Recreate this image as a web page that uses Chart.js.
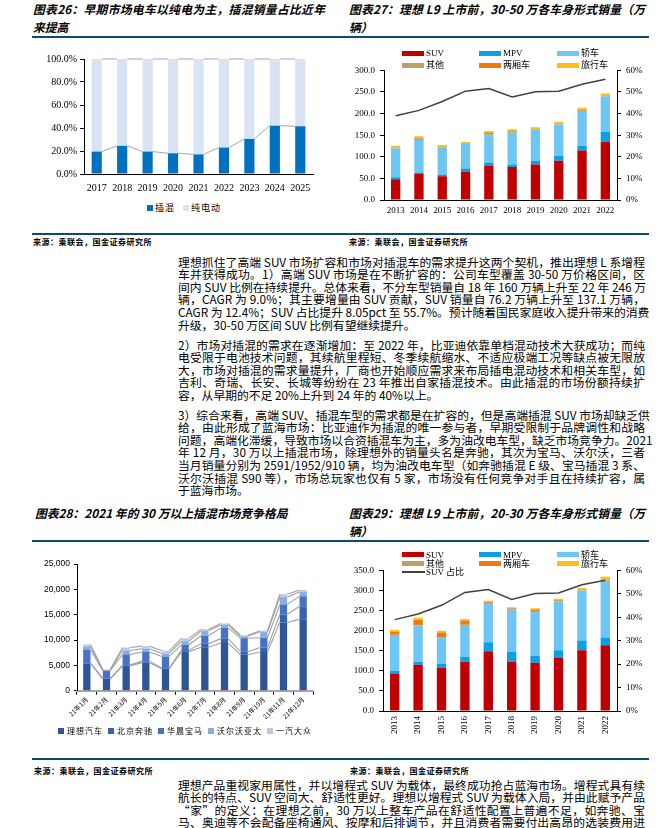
<!DOCTYPE html>
<html lang="zh-CN">
<head>
<meta charset="utf-8">
<script src="https://cdn.jsdelivr.net/npm/chart.js@4.4.1/dist/chart.umd.min.js"></script>
<style>
html, body { margin: 0; padding: 0; background: #fff; }
body { position: relative; width: 671px; height: 828px; overflow: hidden; font-family: "Noto Sans CJK SC", sans-serif; color: #000; }
.title { position: absolute; font-size: 11.8px; font-weight: bold; font-style: italic; line-height: 18px; }
.title div { text-align: justify; text-align-last: justify; white-space: nowrap; }
.title div.last { text-align-last: left; }
.rule { position: absolute; left: 32px; width: 617px; height: 2px; background: #0e4a6c; }
.src { position: absolute; font-size: 8px; font-weight: bold; letter-spacing: 0.5px; line-height: 10px; white-space: nowrap; }
.para { position: absolute; left: 178px; width: 467px; font-size: 11.8px; line-height: 12.6px; }
.para div { height: 12.6px; text-align: justify; text-align-last: justify; white-space: nowrap; }
.para div.last { text-align-last: left; }
canvas { position: absolute; }
.leg { position: absolute; display: flex; align-items: center; white-space: nowrap; line-height: 10px; z-index: 2; }
.leg .it { display: flex; align-items: center; }
.leg .sw { display: inline-block; }
.gl { position: absolute; font-family: "Liberation Serif", "Noto Sans CJK SC", serif; font-size: 9px; line-height: 10px; white-space: nowrap; z-index: 2; }
</style>
</head>
<body>

<div class="title" style="left:33px;top:0;width:292px"><div>图表26：早期市场电车以纯电为主，插混销量占比近年</div><div class="last">来提高</div></div>
<div class="title" style="left:349px;top:0;width:296px"><div>图表27：理想 L9 上市前，30-50 万各车身形式销量（万</div><div class="last">辆）</div></div>
<div class="rule" style="top:35.7px"></div>

<canvas id="c26" width="290" height="150" style="left:40px;top:50px"></canvas>
<div class="leg" id="leg26" style="left:147px;top:203px;font-size:9px;letter-spacing:1px"></div>

<canvas id="c27" width="305" height="160" style="left:345px;top:60px"></canvas>
<div id="leg27"></div>

<div class="rule" style="top:233.3px"></div>
<div class="src" style="left:33px;top:237.3px">来源：乘联会，国金证券研究所</div>
<div class="src" style="left:349px;top:237.3px">来源：乘联会，国金证券研究所</div>

<div class="para" style="top:255.7px">
<div>理想抓住了高端 SUV 市场扩容和市场对插混车的需求提升这两个契机，推出理想 L 系增程</div>
<div>车并获得成功。1）高端 SUV 市场是在不断扩容的：公司车型覆盖 30-50 万价格区间，区</div>
<div>间内 SUV 比例在持续提升。总体来看，不分车型销量自 18 年 160 万辆上升至 22 年 246 万</div>
<div>辆，CAGR 为 9.0%；其主要增量由 SUV 贡献，SUV 销量自 76.2 万辆上升至 137.1 万辆，</div>
<div>CAGR 为 12.4%；SUV 占比提升 8.05pct 至 55.7%。预计随着国民家庭收入提升带来的消费</div>
<div class="last">升级，30-50 万区间 SUV 比例有望继续提升。</div>
</div>
<div class="para" style="top:338.7px">
<div>2）市场对插混的需求在逐渐增加：至 2022 年，比亚迪依靠单档混动技术大获成功；而纯</div>
<div>电受限于电池技术问题，其续航里程短、冬季续航缩水、不适应极端工况等缺点被无限放</div>
<div>大，市场对插混的需求量提升，厂商也开始顺应需求来布局插电混动技术和相关车型，如</div>
<div>吉利、奇瑞、长安、长城等纷纷在 23 年推出自家插混技术。由此插混的市场份额持续扩</div>
<div class="last">容，从早期的不足 20%上升到 24 年的 40%以上。</div>
</div>
<div class="para" style="top:408.7px">
<div>3）综合来看，高端 SUV、插混车型的需求都是在扩容的，但是高端插混 SUV 市场却缺乏供</div>
<div>给，由此形成了蓝海市场：比亚迪作为插混的唯一参与者，早期受限制于品牌调性和战略</div>
<div>问题，高端化滞缓，导致市场以合资插混车为主，多为油改电车型，缺乏市场竞争力。2021</div>
<div>年 12 月，30 万以上插混市场，除理想外的销量头名是奔驰，其次为宝马、沃尔沃，三者</div>
<div>当月销量分别为 2591/1952/910 辆，均为油改电车型（如奔驰插混 E 级、宝马插混 3 系、</div>
<div>沃尔沃插混 S90 等），市场总玩家也仅有 5 家，市场没有任何竞争对手且在持续扩容，属</div>
<div class="last">于蓝海市场。</div>
</div>

<div class="title" style="left:35px;top:504px;width:252px"><div>图表28：2021 年的 30 万以上插混市场竞争格局</div></div>
<div class="title" style="left:349px;top:504px;width:296px"><div>图表29：理想 L9 上市前，20-30 万各车身形式销量（万</div><div class="last">辆）</div></div>
<div class="rule" style="top:539.7px"></div>

<canvas id="c28" width="285" height="180" style="left:40px;top:555px"></canvas>
<div class="leg" id="leg28" style="left:58px;top:725.7px;font-size:8px;letter-spacing:1px"></div>

<canvas id="c29" width="305" height="180" style="left:345px;top:560px"></canvas>
<div id="leg29"></div>

<div class="rule" style="top:758px"></div>
<div class="src" style="left:34px;top:766px">来源：乘联会，国金证券研究所</div>
<div class="src" style="left:350px;top:766px">来源：乘联会，国金证券研究所</div>

<div class="para" style="top:778.5px">
<div>理想产品重视家用属性，并以增程式 SUV 为载体，最终成功抢占蓝海市场。增程式具有续</div>
<div>航长的特点、SUV 空间大、舒适性更好。理想以增程式 SUV 为载体入局，并由此赋予产品</div>
<div>“家”的定义：在理想之前，30 万以上整车产品在舒适性配置上普遍不足，如奔驰、宝</div>
<div>马、奥迪等不会配备座椅通风、按摩和后排调节，并且消费者需要付出高昂的选装费用进</div>
</div>

<script>
// 图表26：插混 / 纯电动 占比（%）
const years26 = ['2017', '2018', '2019', '2020', '2021', '2022', '2023', '2024', '2025'];
const phev26  = [19.5, 24.5, 19.5, 18, 17, 23, 30.5, 42, 41.5];
const bev26   = [80.5, 75.5, 80.5, 82, 83, 77, 69.5, 58, 58.5];

// 图表27：30-50 万各车身形式销量（万辆）
const years27  = ['2013', '2014', '2015', '2016', '2017', '2018', '2019', '2020', '2021', '2022'];
const suv27    = [48, 60, 54.7, 66, 79.7, 76.2, 82, 91, 114.7, 135];
const mpv27    = [4.5, 3.8, 4.5, 7, 6.9, 6, 9, 11.5, 10.6, 22.5];
const sedan27  = [67, 75, 61.6, 57, 64.5, 73.5, 71.5, 72, 81, 82];
const other27  = [1, 3.5, 0.5, 2, 1.5, 1.5, 1.5, 1.5, 2, 2];
const hatch27  = [0.5, 1, 1.5, 0.5, 2.5, 2, 0.5, 0.5, 0.5, 0.5];
const wagon27  = [4.5, 4.5, 4.5, 2, 4.5, 4.5, 4, 4.5, 5, 4.5];
const share27  = [39.0, 41.5, 45.6, 50.4, 51.6, 47.7, 50.1, 50.4, 53.6, 55.9];

// 图表28：2021 年 30 万以上插混月销量（辆）
const months28 = ['21年1月', '21年2月', '21年3月', '21年4月', '21年5月', '21年6月',
                  '21年7月', '21年8月', '21年9月', '21年10月', '21年11月', '21年12月'];
const li28     = [5379, 2300, 4900, 5539, 4323, 7713, 8589, 9433, 7094, 7649, 13485, 14087];
const benz28   = [100, 100, 150, 300, 100, 300, 660, 850, 600, 880, 1550, 2591];
const bmw28    = [2600, 1550, 2100, 1800, 2350, 1050, 1610, 2130, 2650, 1940, 2010, 1952];
const volvo28  = [650, 150, 800, 630, 580, 700, 970, 580, 390, 1160, 1420, 910];
const vw28     = [400, 100, 580, 530, 520, 580, 320, 260, 200, 190, 580, 360];

// 图表29：20-30 万各车身形式销量（万辆）
const years29  = ['2013', '2014', '2015', '2016', '2017', '2018', '2019', '2020', '2021', '2022'];
const suv29    = [93.2, 115, 107.8, 122.4, 149, 122.4, 120, 132, 151.5, 163.7];
const mpv29    = [7.3, 7.4, 9.7, 12.1, 22, 24.3, 17, 19.5, 24.3, 19.3];
const sedan29  = [89, 90.7, 66.5, 79.5, 95.6, 105.3, 109.4, 121.5, 124, 138];
const other29  = [0.5, 0.5, 0.5, 0.5, 0.5, 0.5, 0.5, 0.5, 0.5, 0.5];
const hatch29  = [6.5, 13.5, 10.8, 10.8, 3.6, 3.5, 5, 2, 1.2, 3];
const wagon29  = [5.5, 4.8, 4.7, 4, 4, 2.5, 4, 4, 4.9, 10];
const share29  = [39.0, 41.4, 45.1, 50.6, 51.8, 47.6, 50.1, 50.4, 53.9, 55.8];

const bodyNames  = ['SUV', 'MPV', '轿车', '其他', '两厢车', '旅行车'];
const bodyColors = ['#c00000', '#0a9fe6', '#6ec6f5', '#bf9f62', '#ed7d0b', '#fdbf17'];
const brand28    = ['理想汽车', '北京奔驰', '华晨宝马', '沃尔沃亚太', '一汽大众'];
const brandCol28 = ['#2f5597', '#3561ae', '#4472c4', '#8faadc', '#b9c9e8'];

Chart.defaults.color = '#000';
Chart.defaults.animation = false;
Chart.defaults.font.family = '"Liberation Serif", "Noto Sans CJK SC", serif';
Chart.defaults.plugins.legend.display = false;
Chart.defaults.plugins.tooltip.enabled = false;

// Excel 式系列线：连接相邻柱子的顶端
const seriesLines = {
  id: 'seriesLines',
  afterDatasetsDraw(chart, args, opts) {
    const ctx = chart.ctx;
    ctx.save();
    ctx.strokeStyle = opts.color || '#a6a6a6';
    ctx.lineWidth = opts.width || 1;
    chart.data.datasets.forEach((ds, di) => {
      const meta = chart.getDatasetMeta(di);
      if (meta.type !== 'bar') return;
      for (let i = 0; i < meta.data.length - 1; i++) {
        const a = meta.data[i], b = meta.data[i + 1];
        ctx.beginPath();
        ctx.moveTo(a.x + a.width / 2, a.y);
        ctx.lineTo(b.x - b.width / 2, b.y);
        ctx.stroke();
      }
    });
    ctx.restore();
  }
};

// 简单图例（单行）
function rowLegend(id, names, colors, box, gap, textGap) {
  const el = document.getElementById(id);
  names.forEach((n, i) => {
    const it = document.createElement('span');
    it.className = 'it';
    it.style.marginRight = gap + 'px';
    it.innerHTML = `<span class="sw" style="width:${box}px;height:${box}px;background:${colors[i]};margin-right:${textGap}px"></span>${n}`;
    el.append(it);
  });
}

// 三列图例
function gridLegend(names, colors, rows, lineName) {
  const cols = [402, 479, 557];
  names.forEach((n, i) => {
    const x = cols[i % 3], y = rows[Math.floor(i / 3)];
    const sw = document.createElement('div');
    sw.style.cssText = `position:absolute;left:${x}px;top:${y - 2.5}px;width:22px;height:5px;background:${colors[i]};z-index:2`;
    const t = document.createElement('div');
    t.className = 'gl';
    t.style.left = (x + 24) + 'px';
    t.style.top = (y - 5) + 'px';
    t.textContent = n;
    document.body.append(sw, t);
  });
  if (lineName) {
    const y = rows[2];
    const ln = document.createElement('div');
    ln.style.cssText = `position:absolute;left:402px;top:${y - 0.75}px;width:23px;height:1.5px;background:#404040;z-index:2`;
    const t = document.createElement('div');
    t.className = 'gl';
    t.style.left = '426px';
    t.style.top = (y - 5) + 'px';
    t.textContent = lineName;
    document.body.append(ln, t);
  }
}

// 图表26
new Chart(document.getElementById('c26'), {
  type: 'bar',
  data: {
    labels: years26,
    datasets: [
      { label: '插混', data: phev26, backgroundColor: '#0070c0', barPercentage: 0.4, categoryPercentage: 1 },
      { label: '纯电动', data: bev26, backgroundColor: '#dae3f3', barPercentage: 0.4, categoryPercentage: 1 }
    ]
  },
  options: {
    responsive: false,
    layout: { padding: { top: 7, right: 17, left: 0, bottom: 0 } },
    scales: {
      x: {
        stacked: true,
        grid: { display: false, drawTicks: false },
        border: { color: '#000' },
        ticks: { padding: 8, font: { size: 10 }, minRotation: 0, maxRotation: 0, autoSkip: false },
        afterFit: s => { s.height = 26; }
      },
      y: {
        stacked: true, min: 0, max: 100,
        ticks: { stepSize: 20, padding: 3, font: { size: 10 }, callback: v => v.toFixed(1) + '%' },
        grid: { drawOnChartArea: false, tickLength: 4, color: '#000' },
        border: { color: '#000' },
        afterFit: s => { s.width = 44; }
      }
    },
    plugins: { seriesLines: { color: '#a6a6a6', width: 1 } }
  },
  plugins: [seriesLines]
});
rowLegend('leg26', ['插混', '纯电动'], ['#0070c0', '#dae3f3'], 6, 8, 2);

// 图表27 / 图表29 共用
function bodyChart(id, labels, series, share, yMax, opt) {
  const datasets = series.map((d, i) => ({
    type: 'bar', label: bodyNames[i], data: d, backgroundColor: bodyColors[i],
    yAxisID: 'y', stack: 's', barPercentage: 0.4, categoryPercentage: 1, order: 1
  }));
  datasets.push({
    type: 'line', label: 'SUV 占比', data: share, yAxisID: 'y1',
    borderColor: '#404040', borderWidth: 1.5, pointRadius: 0, tension: 0, order: 0
  });
  new Chart(document.getElementById(id), {
    type: 'bar',
    data: { labels, datasets },
    options: {
      responsive: false,
      layout: { padding: { top: opt.top, right: 0, left: 0, bottom: 0 } },
      scales: {
        x: {
          stacked: true,
          grid: { display: false, drawTicks: false },
          border: { color: '#000' },
          ticks: {
            padding: opt.xPad, autoSkip: false, font: { size: 9 },
            minRotation: opt.rot, maxRotation: opt.rot
          },
          afterFit: s => { s.height = opt.xH; }
        },
        y: {
          stacked: true, min: 0, max: yMax, position: 'left',
          ticks: { stepSize: 50, padding: 5, font: { size: 9 }, callback: v => v.toFixed(1) },
          grid: { drawOnChartArea: false, tickLength: 4, color: '#000' },
          border: { color: '#000' },
          afterFit: s => { s.width = opt.yW; }
        },
        y1: {
          min: 0, max: 60, position: 'right',
          ticks: { stepSize: 10, padding: 5, font: { size: 9 }, callback: v => v + '%' },
          grid: { drawOnChartArea: false, tickLength: 4, color: '#000' },
          border: { color: '#000' },
          afterFit: s => { s.width = 33; }
        }
      }
    }
  });
}

bodyChart('c27', years27, [suv27, mpv27, sedan27, other27, hatch27, wagon27], share27, 300,
  { top: 8, xH: 20, xPad: 5, rot: 0, yW: 39 });
gridLegend(bodyNames, bodyColors, [53.3, 65], null);

bodyChart('c29', years29, [suv29, mpv29, sedan29, other29, hatch29, wagon29], share29, 350,
  { top: 7, xH: 29, xPad: 5, rot: 90, yW: 38 });
gridLegend(bodyNames, bodyColors, [554.5, 563.5, 572], 'SUV 占比');

// 图表28
new Chart(document.getElementById('c28'), {
  type: 'bar',
  data: {
    labels: months28,
    datasets: [li28, benz28, bmw28, volvo28, vw28].map((d, i) => ({
      label: brand28[i], data: d, backgroundColor: brandCol28[i],
      barPercentage: 0.37, categoryPercentage: 1
    }))
  },
  options: {
    responsive: false,
    layout: { padding: { top: 6.7, right: 12, left: 0, bottom: 0 } },
    scales: {
      x: {
        stacked: true,
        grid: { display: true, drawOnChartArea: false, offset: true, tickLength: 4, color: '#000' },
        border: { color: '#a6a6a6', width: 2 },
        ticks: {
          padding: 1, autoSkip: false, minRotation: 45, maxRotation: 45,
          font: { family: '"Noto Sans CJK SC", sans-serif', size: 6.5 }
        },
        afterFit: s => { s.height = 44.3; }
      },
      y: {
        stacked: true, min: 0, max: 25000,
        ticks: { stepSize: 5000, padding: 4, font: { family: '"Liberation Sans", sans-serif', size: 8.5 } },
        grid: { drawOnChartArea: false, tickLength: 3, color: '#000' },
        border: { color: '#000' },
        afterFit: s => { s.width = 37; }
      }
    },
    plugins: { seriesLines: { color: '#a0a0a0', width: 1.1 } }
  },
  plugins: [seriesLines]
});
rowLegend('leg28', brand28, brandCol28, 6, 5, 3);
</script>
</body>
</html>
